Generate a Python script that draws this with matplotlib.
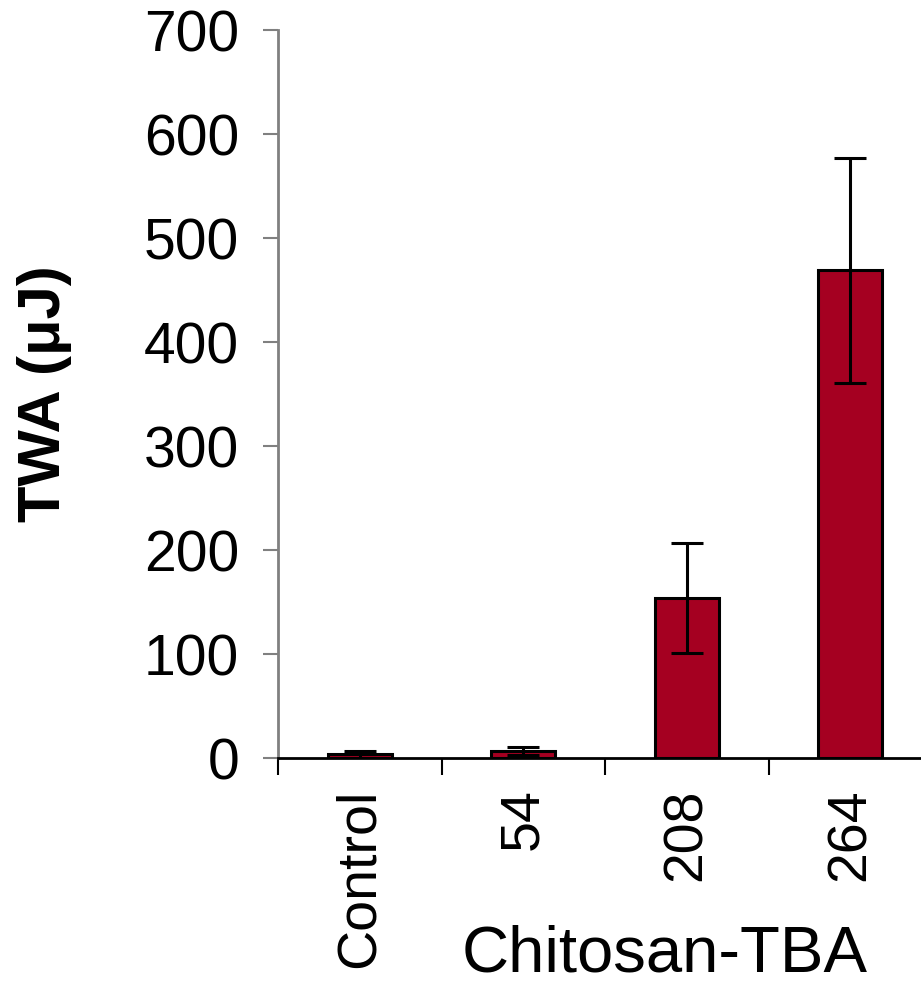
import matplotlib
matplotlib.use("Agg")
import matplotlib.pyplot as plt
import numpy as np

categories = ["Control", "54", "208", "264"]
twa = [3.5, 7, 154, 469]
twa_err = [3.5, 4, 53, 108]
y_ticks = [0, 100, 200, 300, 400, 500, 600, 700]

plt.rcParams["font.family"] = ["Liberation Sans", "DejaVu Sans"]

fig = plt.figure(figsize=(9.21, 9.83), dpi=100)
ax = fig.add_axes([278 / 921, 225 / 983, 654 / 921, 728 / 983])

x = np.arange(len(categories)) + 0.5
ax.bar(x, twa, width=0.39, color="#A50021", edgecolor="black", linewidth=2.2,
       yerr=twa_err, capsize=11.5, error_kw=dict(elinewidth=2.2, capthick=2.2, ecolor="black"))

ax.set_xlim(0, 4)
ax.set_ylim(0, 700)
ax.set_yticks(y_ticks)
ax.tick_params(axis="y", labelsize=41, length=11, width=1.5, pad=17, color="gray")

ax.set_xticks(x)
ax.set_xticklabels(categories, rotation=90, fontsize=40)
ax.tick_params(axis="x", which="major", length=0, pad=22)
ax.set_xticks(np.arange(5), minor=True)
ax.tick_params(axis="x", which="minor", length=12, width=1.5, color="black")

ax.spines["top"].set_visible(False)
ax.spines["right"].set_visible(False)
ax.spines["left"].set_color("gray")
ax.spines["left"].set_linewidth(2)
ax.spines["bottom"].set_linewidth(2)

ax.set_ylabel("TWA (\u03bcJ)", fontsize=43, fontweight="bold", labelpad=52)
fig.text(665 / 921, 12 / 983, "Chitosan-TBA", fontsize=47, ha="center", va="baseline")

fig.savefig("out.png", dpi=100)
